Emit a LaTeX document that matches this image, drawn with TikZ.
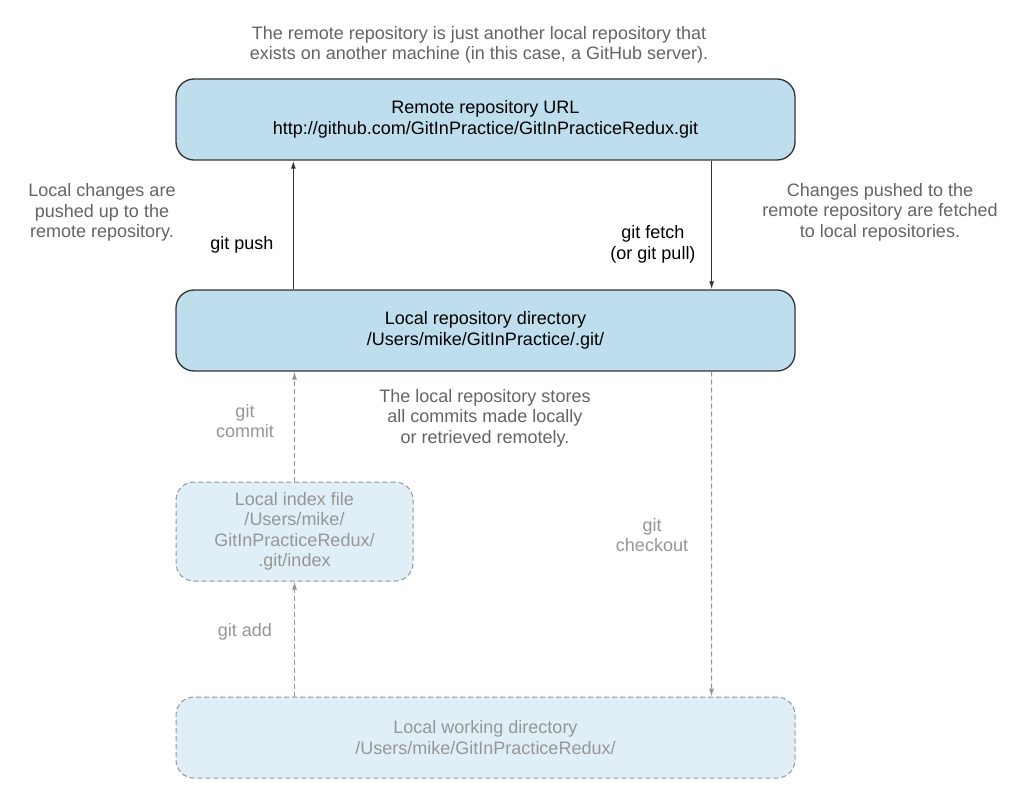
\documentclass[tikz,border=0pt]{standalone}
\usepackage{fontspec}
\setmainfont{Liberation Sans}
\usetikzlibrary{arrows.meta}
\definecolor{boxblue}{RGB}{190,222,238}
\definecolor{paleblue}{RGB}{224,239,247}
\definecolor{edgedark}{RGB}{51,51,51}
\definecolor{notegray}{RGB}{100,100,100}
\definecolor{lightgray}{RGB}{150,150,150}
\begin{document}
\begin{tikzpicture}[x=1pt,y=-1pt,
  txt/.style={font=\fontsize{18}{20.5}\selectfont, align=center, inner sep=0pt},
  solidbox/.style={txt, draw=edgedark, line width=1.3pt, fill=boxblue, rounded corners=18pt, minimum width=619pt, minimum height=81pt},
  dashbox/.style={txt, draw=lightgray, line width=1pt, dash pattern=on 5pt off 3pt, fill=paleblue, rounded corners=18pt, text=lightgray},
  note/.style={txt, text=notegray},
  lbl/.style={txt, text=lightgray},
  solidarrow/.style={draw=edgedark, line width=1.2pt, -{Latex[length=8pt,width=5pt]}},
  dasharrow/.style={draw=lightgray, line width=1pt, dash pattern=on 5pt off 3pt, -{Latex[length=8pt,width=5pt]}}]
\fill[white] (0,0) rectangle (1020,805);
\useasboundingbox (0,0) rectangle (1020,805);

\node[note] (topnote) at (479,45) {The remote repository is just another local repository that\\exists on another machine (in this case, a GitHub server).};

\node[solidbox] (remote) at (485.5,119.5) {Remote repository URL\\http://github.com/GitInPractice/GitInPracticeRedux.git};
\node[solidbox] (local) at (485.5,330.5) {Local repository directory\\/Users/mike/GitInPractice/.git/};
\node[dashbox, minimum width=237pt, minimum height=99pt] (index) at (294.5,531.5) {Local index file\\/Users/mike/\\GitInPracticeRedux/\\.git/index};
\node[dashbox, minimum width=619pt, minimum height=81pt] (work) at (485.5,737.5) {Local working directory\\/Users/mike/GitInPracticeRedux/};

\node[note] (leftnote) at (102,212.5) {Local changes are\\pushed up to the\\remote repository.};
\node[note] (rightnote) at (880,212) {Changes pushed to the\\remote repository are fetched\\to local repositories.};
\node[txt] (pushlbl) at (242,245) {git push};
\node[txt] (fetchlbl) at (653,244.5) {git fetch\\(or git pull)};
\node[note] (midnote) at (485,418) {The local repository stores\\all commits made locally\\or retrieved remotely.};
\node[lbl] (commitlbl) at (245,421) {git\\commit};
\node[lbl] (checkoutlbl) at (652,535) {git\\checkout};
\node[lbl] (addlbl) at (245,632) {git add};

\draw[solidarrow] ([xshift=118pt]local.north west) -- ([xshift=118pt]remote.south west);
\draw[solidarrow] ([xshift=-84pt]remote.south east) -- ([xshift=-84pt]local.north east);
\draw[dasharrow] (index.north) -- (index.north |- local.south);
\draw[dasharrow] (index.south |- work.north) -- (index.south);
\draw[dasharrow] ([xshift=-84pt]local.south east) -- ([xshift=-84pt]work.north east);
\end{tikzpicture}
\end{document}
